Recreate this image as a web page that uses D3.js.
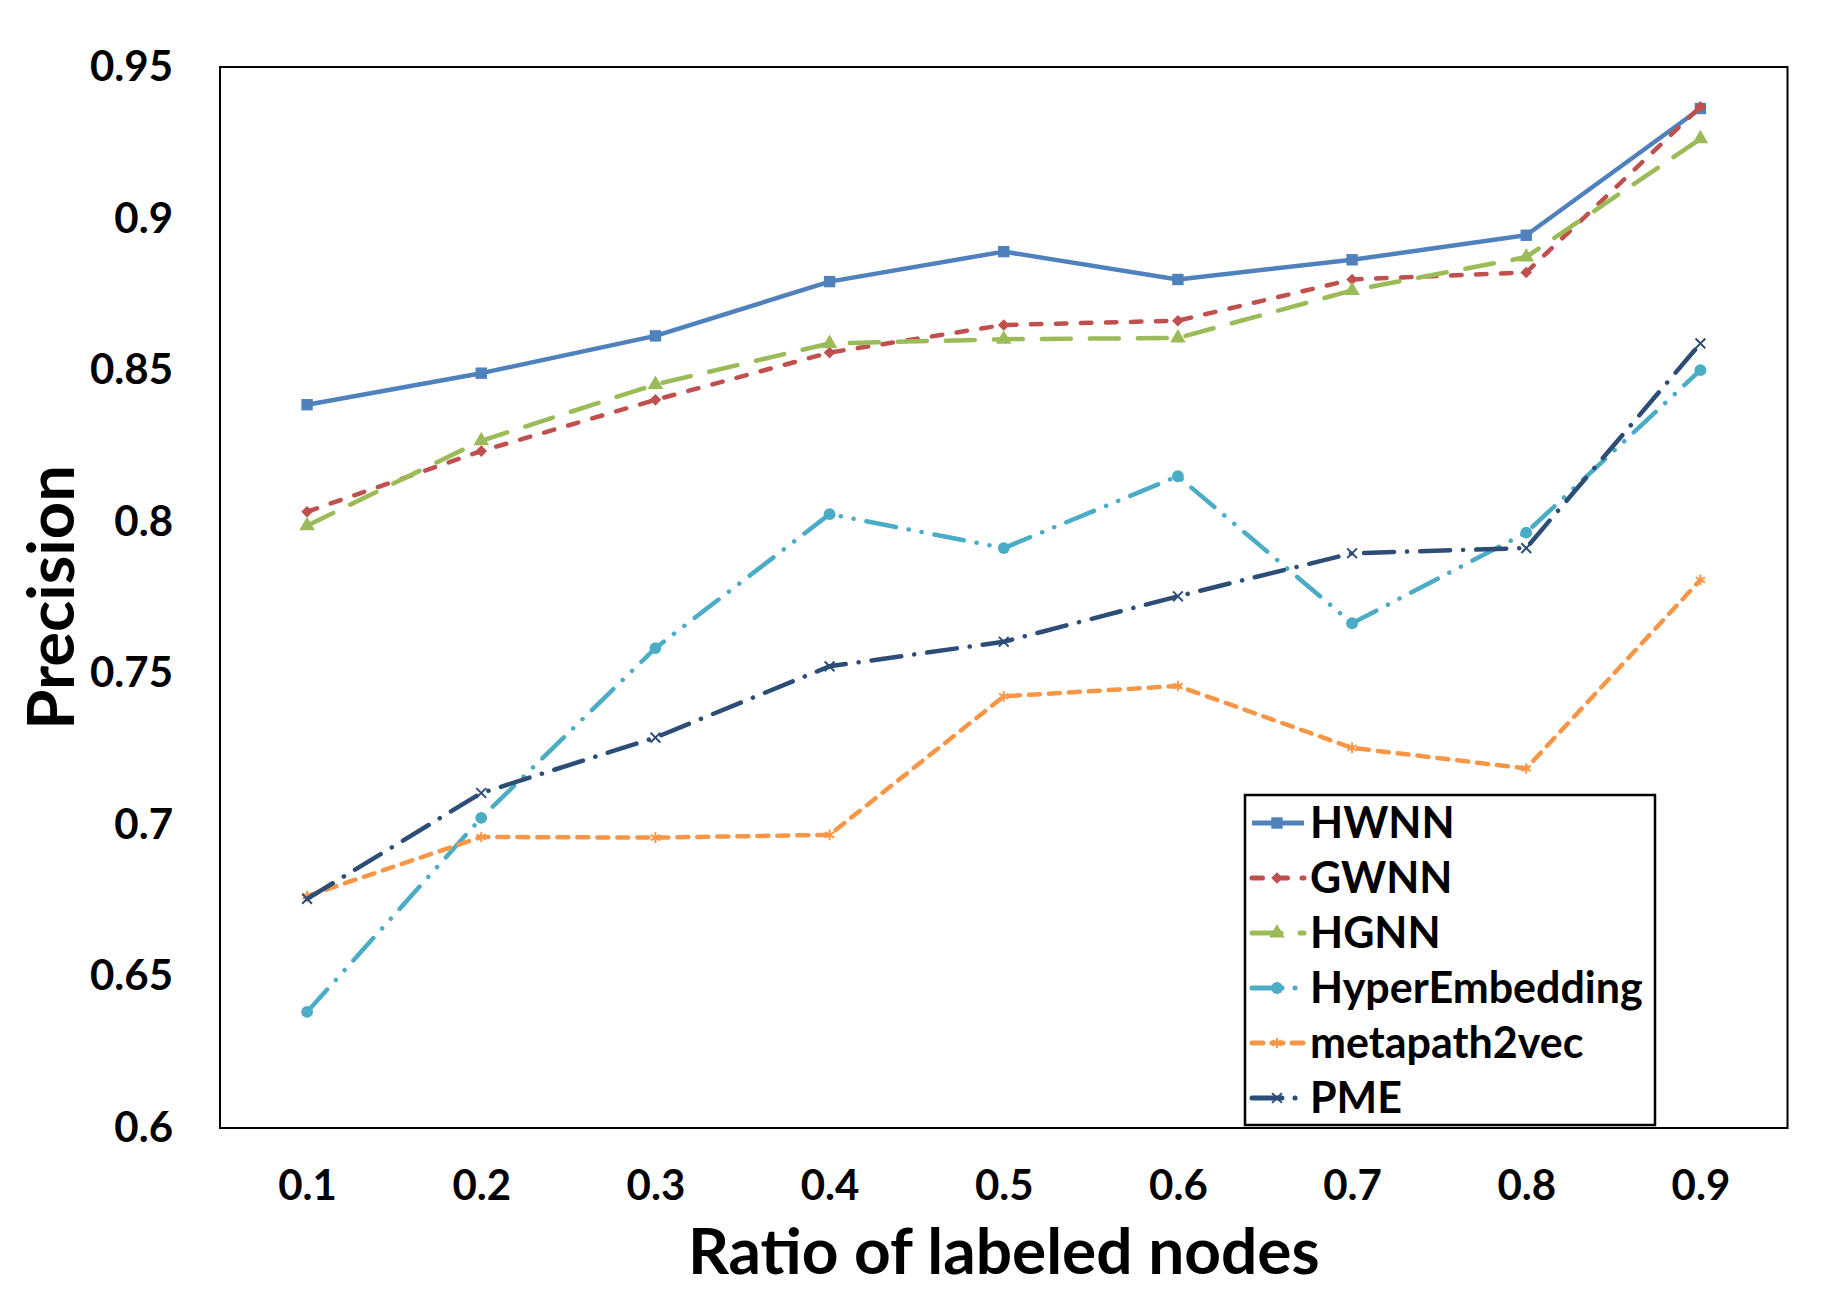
<!DOCTYPE html>
<html>
<head>
<meta charset="utf-8">
<script src="https://cdn.jsdelivr.net/npm/d3@7"></script>
<style>
  body { margin: 0; background: #fff; }
  text { font-family: Lato, "Open Sans", sans-serif; font-weight: 700; fill: #000; }
</style>
</head>
<body>
<svg class="chart" width="1824" height="1290"></svg>
<script>
// data
var ratios = ["0.1", "0.2", "0.3", "0.4", "0.5", "0.6", "0.7", "0.8", "0.9"];
var yTicks = [0.6, 0.65, 0.7, 0.75, 0.8, 0.85, 0.9, 0.95];
var seriesNames = ["HWNN", "GWNN", "HGNN", "HyperEmbedding", "metapath2vec", "PME"];

var hwnn = [0.8386, 0.849, 0.8613, 0.8792, 0.8891, 0.8799, 0.8864, 0.8945, 0.9363];
var gwnn = [0.8033, 0.8233, 0.8402, 0.8558, 0.8649, 0.8663, 0.8799, 0.8822, 0.9369];
var hgnn = [0.7987, 0.8267, 0.8453, 0.8588, 0.8602, 0.8606, 0.8763, 0.8873, 0.9263];
var hyperEmbedding = [0.6383, 0.7023, 0.7583, 0.8025, 0.7913, 0.815, 0.7665, 0.7964, 0.85];
var metapath2vec = [0.6765, 0.696, 0.6958, 0.6967, 0.7424, 0.7458, 0.7254, 0.7186, 0.7808];
var pme = [0.6756, 0.7105, 0.7288, 0.7523, 0.7604, 0.7754, 0.7896, 0.7913, 0.8588];

var seriesValues = [hwnn, gwnn, hgnn, hyperEmbedding, metapath2vec, pme];

// styles per series
var colors = ["#4F81BD", "#C0504D", "#9BBB59", "#4BACC6", "#F79646", "#2C4D75"];
var dashes = ["none", "10.5,14.5", "29,19", "30,13,0.1,13,0.1,13", "11,9", "30,13,0.1,13"];
var symbols = [d3.symbolSquare, d3.symbolSquare, d3.symbolTriangle, d3.symbolCircle, d3.symbolAsterisk, d3.symbolX];
var symbolSizes = [130, 68, 105, 110, 80, 64];

var svg = d3.select(".chart");
var plotLeft = 220, plotRight = 1787.5, plotTop = 67, plotBottom = 1128;

var x = d3.scalePoint().domain(ratios).range([plotLeft, plotRight]).padding(0.5);
var y = d3.scaleLinear().domain([0.6, 0.95]).range([plotBottom, plotTop]);

svg.append("rect")
  .attr("width", 1824).attr("height", 1290).attr("fill", "#fff");

// axes (labels only, no ticks)
var yAxis = svg.append("g")
  .attr("transform", "translate(" + [plotLeft, 0] + ")")
  .call(d3.axisLeft(y).tickValues(yTicks).tickSize(0).tickPadding(47)
    .tickFormat(function(d) { return String(+d.toFixed(2)); }));
yAxis.select(".domain").remove();
yAxis.selectAll("text").style("font-size", "42px").style("font-family", "Lato");

var xAxis = svg.append("g")
  .attr("transform", "translate(" + [0, plotBottom] + ")")
  .call(d3.axisBottom(x).tickSize(0).tickPadding(42));
xAxis.select(".domain").remove();
xAxis.selectAll("text").style("font-size", "42px").style("font-family", "Lato");

// plot frame
svg.append("rect")
  .attr("x", plotLeft).attr("y", plotTop)
  .attr("width", plotRight - plotLeft).attr("height", plotBottom - plotTop)
  .attr("fill", "none").attr("stroke", "#000").attr("stroke-width", 2);

// axis titles
svg.append("text")
  .attr("x", (plotLeft + plotRight) / 2).attr("y", 1274)
  .attr("text-anchor", "middle")
  .style("font-size", "64px")
  .text("Ratio of labeled nodes");

svg.append("text")
  .attr("transform", "translate(" + [74, (plotTop + plotBottom) / 2] + ") rotate(-90)")
  .attr("text-anchor", "middle")
  .style("font-size", "65px")
  .text("Precision");

var line = d3.line()
  .x(function(d, i) { return x(ratios[i]); })
  .y(function(d) { return y(d); });

function drawMarker(g, i, px, py) {
  var m = g.append("path")
    .attr("d", d3.symbol().type(symbols[i]).size(symbolSizes[i])())
    .attr("transform", "translate(" + [px, py] + ")" + (i == 1 ? " rotate(45)" : ""));
  if (i >= 4) {
    m.attr("fill", "none").attr("stroke", colors[i]).attr("stroke-width", 2);
  } else {
    m.attr("fill", colors[i]);
  }
}

// series lines + markers
for (var i = 0; i < seriesValues.length; i++) {
  var g = svg.append("g").attr("class", "series");
  g.append("path")
    .datum(seriesValues[i])
    .attr("d", line)
    .attr("fill", "none")
    .attr("stroke", colors[i])
    .attr("stroke-width", 4.5)
    .attr("stroke-linecap", i == 0 ? "butt" : "round")
    .attr("stroke-linejoin", "round")
    .attr("stroke-dasharray", dashes[i]);
  seriesValues[i].forEach(function(v, j) {
    drawMarker(g, i, x(ratios[j]), y(v));
  });
}

// legend
var legend = svg.append("g").attr("class", "legend");
legend.append("rect")
  .attr("x", 1245).attr("y", 795)
  .attr("width", 410).attr("height", 330)
  .attr("fill", "#fff").attr("stroke", "#000").attr("stroke-width", 2.5);

seriesNames.forEach(function(name, i) {
  var cy = 823 + i * 55;
  legend.append("line")
    .attr("x1", 1252).attr("x2", 1304)
    .attr("y1", cy).attr("y2", cy)
    .attr("stroke", colors[i])
    .attr("stroke-width", 5)
    .attr("stroke-linecap", i == 0 ? "butt" : "round")
    .attr("stroke-dasharray", dashes[i]);
  drawMarker(legend, i, 1277, cy);
  legend.append("text")
    .attr("x", 1310).attr("y", cy + 15)
    .style("font-size", "43px")
    .text(name);
});
</script>
</body>
</html>
